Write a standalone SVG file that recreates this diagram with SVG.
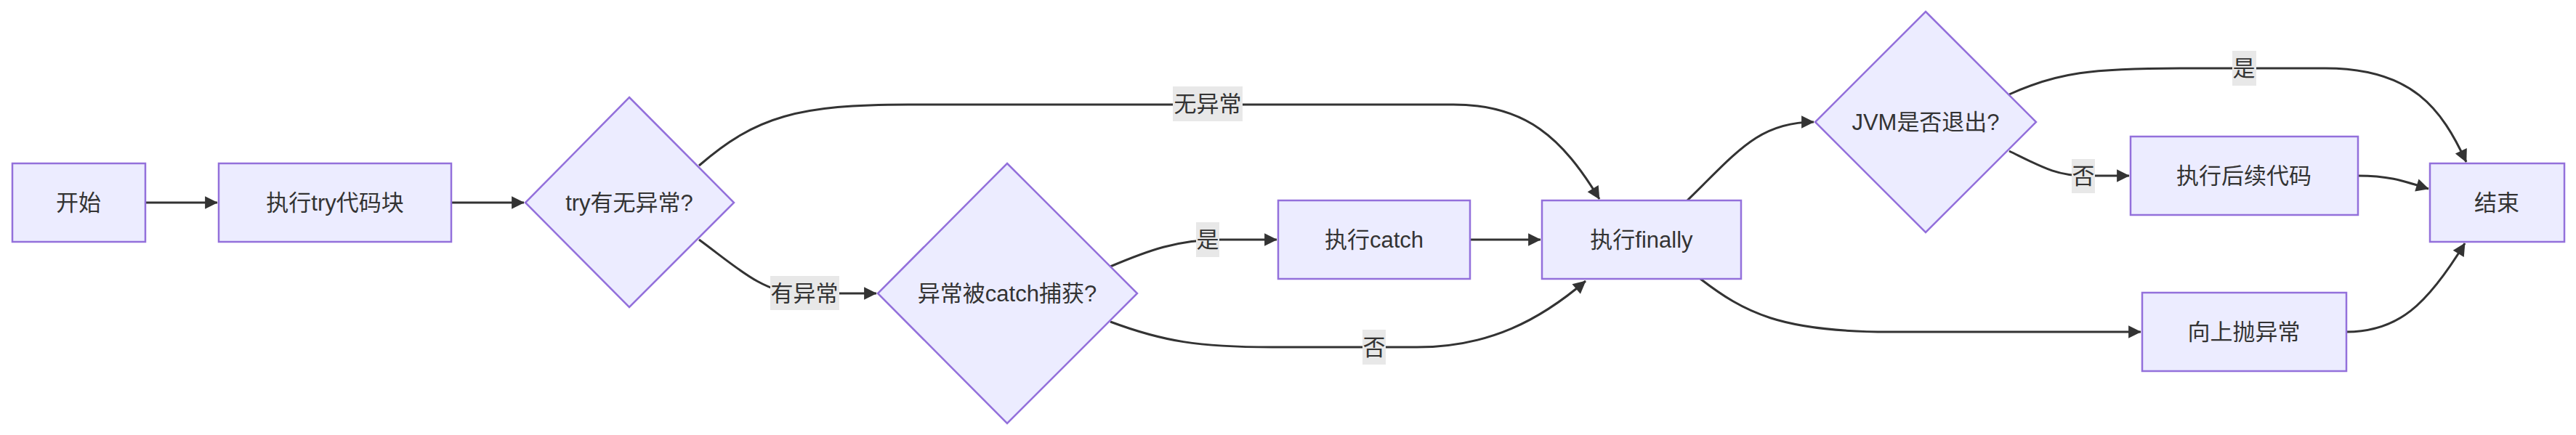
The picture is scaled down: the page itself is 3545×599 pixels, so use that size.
<svg xmlns="http://www.w3.org/2000/svg" width="3545" height="599" viewBox="0 0 3545 599">
<style>
.n{fill:#ECECFF;stroke:#9370DB;stroke-width:2.5}
.t{font-family:"Liberation Sans","Noto Sans CJK SC",sans-serif;font-size:31px;fill:#333;text-anchor:middle;dominant-baseline:central}
.e{fill:none;stroke:#333;stroke-width:3;marker-end:url(#a)}
.lb{fill:#e8e8e8}
</style>
<defs><marker id="a" viewBox="0 0 10 10" refX="9" refY="5" markerWidth="8" markerHeight="8" markerUnits="userSpaceOnUse" orient="auto" style="overflow:visible"><path d="M0,0L10,5L0,10z" fill="#333" transform="scale(2.2)translate(-5.5,-2.7)"/></marker></defs>
<rect width="3545" height="599" fill="#fff"/>
<g id="edges">
<path class="e" d="M201,279L299,279"/>
<path class="e" d="M621,279L721,279"/>
<path class="e" d="M962,228C1040,160 1100,144 1250,144L2000,144C2100,144 2150,190 2201,274"/>
<path class="e" d="M962,330C1010,365 1050,404 1100,404L1206,404"/>
<path class="e" d="M1528,367C1580,345 1620,330 1680,330L1757,330"/>
<path class="e" d="M1528,443C1600,470 1650,478 1750,478L1950,478C2050,478 2120,440 2182,387"/>
<path class="e" d="M2023,330L2120,330"/>
<path class="e" d="M2322,276C2390,210 2420,168 2496,168"/>
<path class="e" d="M2340,384C2400,430 2450,457 2600,457L2946,457"/>
<path class="e" d="M2765,130C2830,100 2880,94 3000,94L3200,94C3320,94 3360,150 3394,223"/>
<path class="e" d="M2765,208C2810,230 2830,242 2870,242L2930,242"/>
<path class="e" d="M3245,242C3290,242 3310,250 3342,260"/>
<path class="e" d="M3229,457C3300,457 3340,420 3392,335"/>
<rect class="lb" x="1060" y="380" width="95" height="47"/><text class="t" x="1107" y="404">有异常</text>
<rect class="lb" x="1614" y="119" width="96" height="48"/><text class="t" x="1662" y="143">无异常</text>
<rect class="lb" x="1646" y="306" width="32" height="48"/><text class="t" x="1662" y="330">是</text>
<rect class="lb" x="1875" y="454" width="32" height="48"/><text class="t" x="1891" y="478">否</text>
<rect class="lb" x="3072" y="70" width="33" height="48"/><text class="t" x="3088" y="94">是</text>
<rect class="lb" x="2851" y="219" width="32" height="47"/><text class="t" x="2867" y="242">否</text>
</g>
<g id="start"><rect class="n" x="17" y="225" width="183" height="108"/><text class="t" x="108" y="279">开始</text></g>
<g id="try"><rect class="n" x="301" y="225" width="320" height="108"/><text class="t" x="461" y="279">执行try代码块</text></g>
<g id="d1"><polygon class="n" points="866,134 1010,279 866,423 723,279"/><text class="t" x="866" y="279">try有无异常?</text></g>
<g id="d2"><polygon class="n" points="1386,225 1565,404 1386,583 1208,404"/><text class="t" x="1386" y="404">异常被catch捕获?</text></g>
<g id="catch"><rect class="n" x="1759" y="276" width="264" height="108"/><text class="t" x="1891" y="330">执行catch</text></g>
<g id="finally"><rect class="n" x="2122" y="276" width="274" height="108"/><text class="t" x="2259" y="330">执行finally</text></g>
<g id="jvm"><polygon class="n" points="2650,16 2802,168 2650,320 2498,168"/><text class="t" x="2650" y="168">JVM是否退出?</text></g>
<g id="next"><rect class="n" x="2932" y="188" width="313" height="108"/><text class="t" x="3088" y="242">执行后续代码</text></g>
<g id="throw"><rect class="n" x="2948" y="403" width="281" height="108"/><text class="t" x="3088" y="457">向上抛异常</text></g>
<g id="end"><rect class="n" x="3344" y="225" width="185" height="108"/><text class="t" x="3436" y="279">结束</text></g>
</svg>
